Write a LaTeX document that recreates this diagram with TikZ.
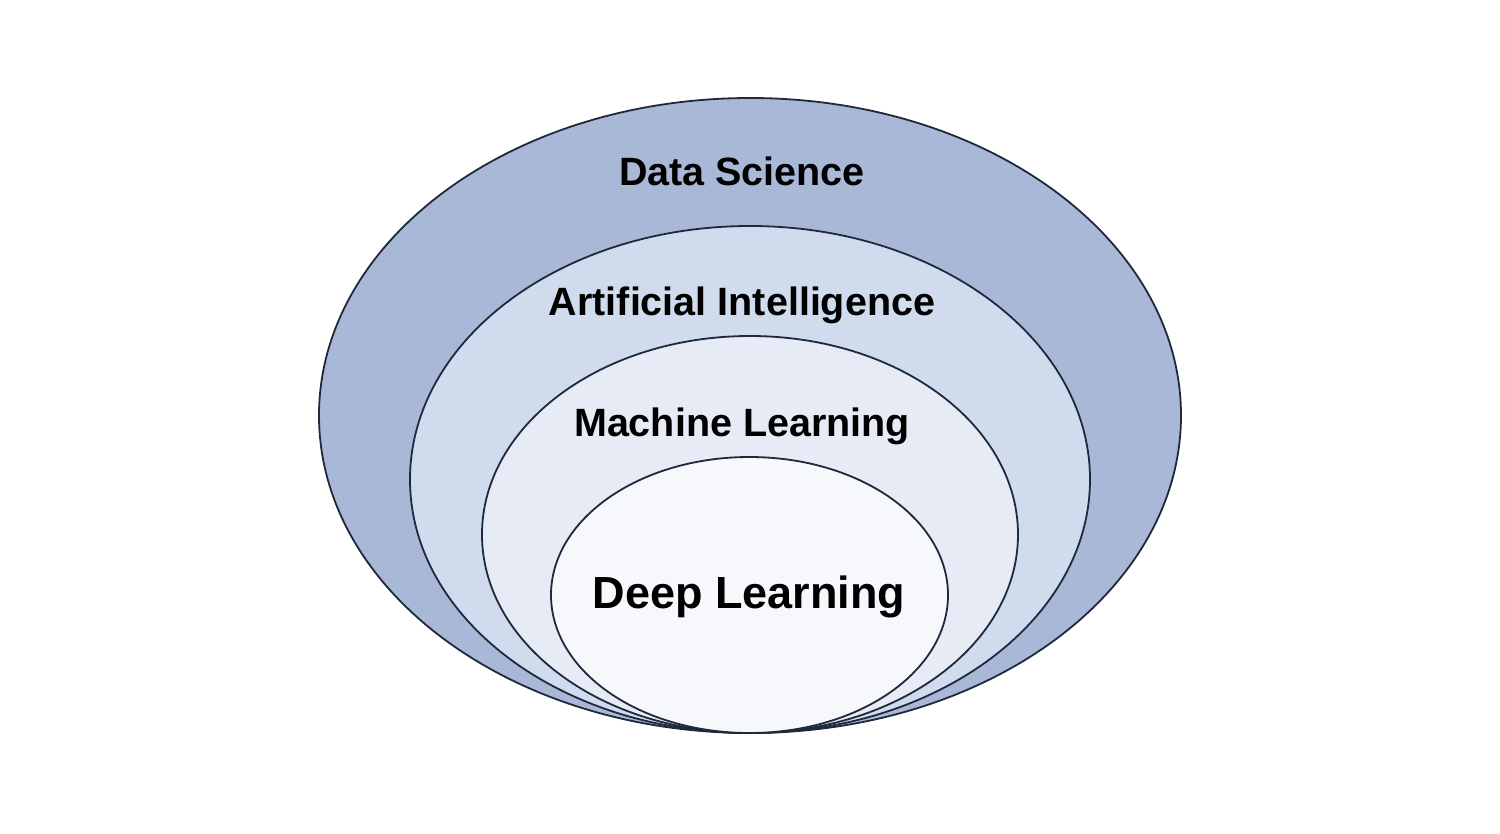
\documentclass[tikz,border=0pt]{standalone}
\usepackage{fontspec}
\setmainfont{Liberation Sans}
\definecolor{dsfill}{HTML}{A9B8D6}
\definecolor{aifill}{HTML}{D0DBEE}
\definecolor{mlfill}{HTML}{E6EBF5}
\definecolor{dlfill}{HTML}{F6F8FC}
\definecolor{edge}{HTML}{1E293B}
\begin{document}
\begin{tikzpicture}[x=1pt,y=-1pt,
  ring/.style={draw=edge,line width=1.8pt},
  lbl/.style={font=\bfseries\fontsize{39.5}{42}\selectfont,text=black,inner sep=0pt,anchor=base},
  biglbl/.style={font=\bfseries\fontsize{45}{48}\selectfont,text=black,inner sep=0pt,anchor=base}]
\useasboundingbox[fill=white] (0,0) rectangle (1500,834);
\path[ring,fill=dsfill] (750,415.5) ellipse [x radius=431, y radius=317.5];
\path[ring,fill=aifill] (750,479.5) ellipse [x radius=340, y radius=253.5];
\path[ring,fill=mlfill] (750,534.5) ellipse [x radius=268, y radius=198.5];
\path[ring,fill=dlfill] (749.5,595) ellipse [x radius=198.5, y radius=138];
\node[lbl] (ds) at (742,186) {Data Science};
\node[lbl] (ai) at (742,316) {Artificial Intelligence};
\node[lbl] (ml) at (742,436) {Machine Learning};
\node[biglbl] (dl) at (749,608) {Deep Learning};
\end{tikzpicture}
\end{document}
